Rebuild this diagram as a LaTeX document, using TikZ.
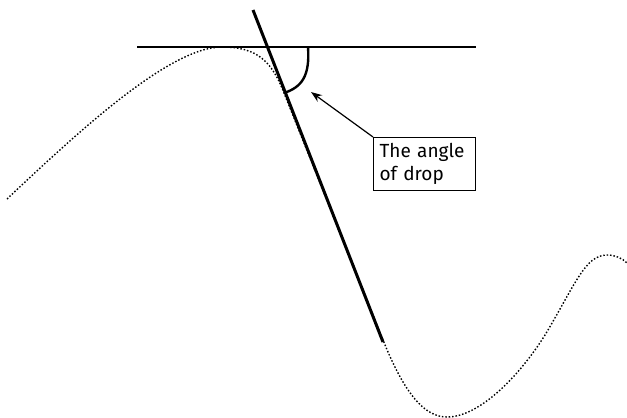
\documentclass[tikz,border=0pt]{standalone}
\usepackage{fontspec}
\setmainfont{Fira Sans}
\usetikzlibrary{arrows.meta}
\begin{document}
\begin{tikzpicture}[x=1pt,y=-1pt,
  curve/.style={line width=1.4pt,dash pattern=on 1.5pt off 1.9pt},
  thickline/.style={line width=3pt},
  thinline/.style={line width=1.2pt},
  label/.style={draw,line width=1.1pt,align=left,text width=90pt,inner xsep=6pt,inner ysep=6pt,font=\fontsize{19}{23}\selectfont}]
\useasboundingbox (0,0) rectangle (627,418);
\coordinate (c0) at (7,199);
\coordinate (c1) at (222,47);
\coordinate (c2) at (284,93);
\coordinate (c3) at (383,340);
\coordinate (c4) at (447,417);
\coordinate (c5) at (545,335);
\coordinate (c6) at (607,255);
\coordinate (c7) at (627,263);
\draw[curve] (c0) .. controls (80,130) and (170,47) .. (c1)
  .. controls (258,47) and (272,62) .. (c2) -- (c3)
  .. controls (405,395) and (425,417) .. (c4)
  .. controls (480,417) and (520,375) .. (c5)
  .. controls (575,285) and (585,255) .. (c6)
  .. controls (615,255) and (622,258) .. (c7);
\coordinate (hl) at (137,47);
\coordinate (hr) at (476,47);
\draw[thinline] (hl) -- (hr);
\coordinate (tt) at (253,10);
\coordinate (tb) at (383,342);
\draw[thickline] (tt) -- (tb);
\coordinate (a1) at (308,47);
\coordinate (a2) at (284,93);
\draw[line width=2.4pt] (a1) .. controls (310,76) and (302,87) .. (a2);
\node[label,anchor=north west] (box) at (373,137) {The angle\\of drop};
\coordinate (tip) at (311,92);
\draw[thinline,-{Stealth[length=11pt,width=8pt]}] (box.north west) -- (tip);
\end{tikzpicture}
\end{document}
